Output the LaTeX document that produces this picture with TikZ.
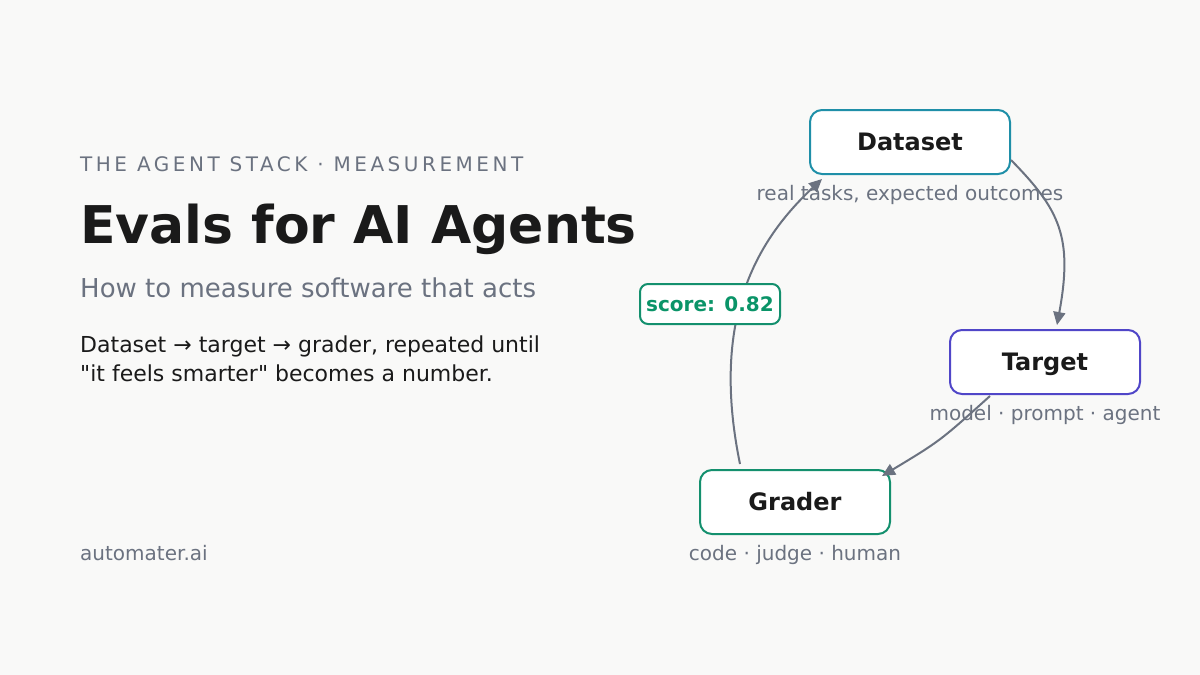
\documentclass[tikz,border=0pt]{standalone}
\usepackage{fontspec}
\setmainfont{DejaVu Sans}
\newfontfamily\spacedfont[LetterSpace=17.6]{DejaVu Sans}
\newfontfamily\plainquotefont[Ligatures=TeXOff]{DejaVu Sans}
\usetikzlibrary{arrows.meta,calc}
\definecolor{bgc}{HTML}{F9F9F8}
\definecolor{ink}{HTML}{1A1A1A}
\definecolor{muted}{HTML}{6B7280}
\definecolor{dsc}{HTML}{1F8FA8}
\definecolor{tgc}{HTML}{5046C8}
\definecolor{grc}{HTML}{14906E}
\definecolor{scorec}{HTML}{0A9468}
\begin{document}
\begin{tikzpicture}[x=1pt,y=-1pt,
  box/.style={draw, line width=2pt, rounded corners=12pt, fill=white, minimum height=64pt,
    inner sep=0pt, font=\fontsize{24pt}{28pt}\selectfont\bfseries, text=ink,
    text height=17.5pt, text depth=0pt},
  lbl/.style={font=\fontsize{20pt}{24pt}\selectfont, text=muted, anchor=base, inner sep=0pt},
  leftx/.style={anchor=base west, inner sep=0pt},
  arr/.style={draw=muted, line width=2pt, -{Triangle[length=13pt,width=12pt]}}
]
\fill[bgc] (0,0) rectangle (1200,675);
\useasboundingbox (0,0) rectangle (1200,675);

% left column
\node[leftx, text=muted, font=\fontsize{20pt}{24pt}\spacedfont] (kicker) at (80,171) {THE AGENT STACK · MEASUREMENT};
\node[leftx, text=ink, font=\fontsize{52pt}{60pt}\selectfont\bfseries] (title) at (80,243) {Evals for AI Agents};
\node[leftx, text=muted, font=\fontsize{26pt}{30pt}\selectfont] (subtitle) at (80,297) {How to measure software that acts};
\node[leftx, text=ink, font=\fontsize{22pt}{26pt}\selectfont] (body1) at (80,352) {Dataset → target → grader, repeated until};
\node[leftx, text=ink, font=\fontsize{22pt}{26pt}\plainquotefont] (body2) at (80,381) {"it feels smarter" becomes a number.};
\node[leftx, text=muted, font=\fontsize{20pt}{24pt}\selectfont] (site) at (80,560) {automater.ai};

% nodes
\node[box, draw=dsc, minimum width=200pt] (ds) at (910,142) {Dataset};
\node[box, draw=tgc, minimum width=190pt] (tg) at (1045,362) {Target};
\node[box, draw=grc, minimum width=190pt] (gr) at (795,502) {Grader};

\node[lbl] (dslbl) at (910,200) {real tasks, expected outcomes};
\node[lbl] (tglbl) at (1045,420) {model · prompt · agent};
\node[lbl] (grlbl) at (795,560) {code · judge · human};

% connectors
\draw[arr] ($(ds.east)+(0,18)$) .. controls (1059.5,209.5) and (1073.2,236.8) .. ($(tg.north)+(12,-4)$);
\draw[arr] ($(tg.south)+(-55,1)$) .. controls (940,441) .. ($(gr.north)+(87,7)$);
\draw[arr] ($(gr.north)+(-55,-5)$) .. controls (710,318) and (757,240) .. ($(ds.south)+(-88,4)$);

% score badge
\node[draw=grc, line width=2pt, rounded corners=8pt, fill=white, minimum width=140pt,
  minimum height=40pt, inner sep=0pt, text=scorec,
  font=\fontsize{20pt}{24pt}\selectfont\bfseries, text height=14.6pt, text depth=0pt] (score) at (710,304) {score: 0.82};
\end{tikzpicture}
\end{document}
